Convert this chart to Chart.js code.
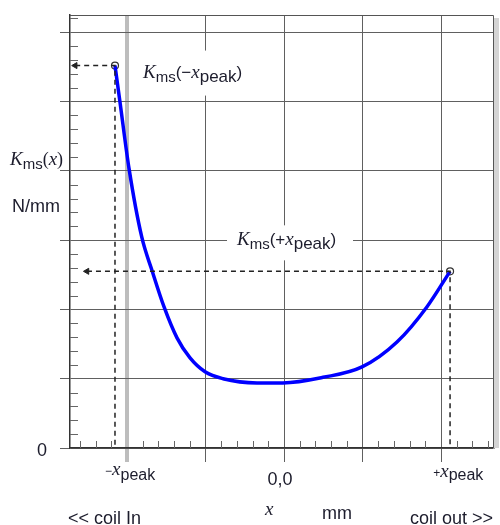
<!DOCTYPE html>
<html>
<head>
<meta charset="utf-8">
<script src="https://cdn.jsdelivr.net/npm/chart.js@4/dist/chart.umd.min.js"></script>
<style>
  html, body { margin: 0; padding: 0; background: #fff; }
</style>
</head>
<body>
<canvas id="kmsChart" width="500" height="525"></canvas>
<script>
// stiffness curve (x in mm grid units, K in grid units)
const curveX = [-2.153, -2.089, -1.975, -1.813, -1.675, -1.529, -1.363, -1.197, -1.006, -0.777, -0.344, -0.013, 0.497, 0.994, 1.439, 1.822, 2.115];
const curveY = [5.52, 4.99, 4.04, 3.05, 2.54, 2.04, 1.59, 1.30, 1.10, 1.00, 0.94, 0.94, 1.02, 1.17, 1.53, 2.04, 2.55];

// the two peak markers and where their dashed arrows end
const peakX = [-2.153, 2.115];
const peakY = [5.52, 2.55];
const arrowEndX = [-2.66, -2.51];

const xTicks = [-2, -1, 0, 1, 2];
const yTicks = [0, 1, 2, 3, 4, 5, 6];
const xLabelAt = [-1.96, -0.05, 2.22];

const TXT = '#1c1c2c';
const SERIF_I = 'italic 19px "Liberation Serif"';
const sans = n => n + 'px "Liberation Sans"';

function drawRich(ctx, parts, x, y, align) {
  let w = 0;
  parts.forEach(p => { ctx.font = p.f; w += ctx.measureText(p.t).width; });
  let cx = align === 'center' ? x - w / 2 : x;
  parts.forEach(p => {
    ctx.font = p.f;
    ctx.fillText(p.t, cx, y + (p.dy || 0));
    cx += ctx.measureText(p.t).width;
  });
  return w;
}

const kLabel = sign => [
  { t: 'K', f: SERIF_I },
  { t: 'ms', f: sans(15), dy: 4 },
  { t: '(' + sign, f: sans(17) },
  { t: 'x', f: SERIF_I },
  { t: 'peak', f: sans(17), dy: 4 },
  { t: ')', f: sans(17) }
];

const decor = {
  id: 'decor',
  beforeDatasetsDraw(chart) {
    const { ctx, chartArea: a, scales: { x, y } } = chart;
    ctx.save();
    // frame top/right + shadow
    ctx.fillStyle = '#d4d4d4';
    ctx.fillRect(a.right + 1, a.top + 3, 5, a.bottom - a.top - 3);
    ctx.strokeStyle = '#555';
    ctx.lineWidth = 1;
    ctx.beginPath();
    ctx.moveTo(a.left, a.top + 0.5);
    ctx.lineTo(a.right + 0.5, a.top + 0.5);
    ctx.lineTo(a.right + 0.5, a.bottom);
    ctx.stroke();

    // minor ticks
    ctx.strokeStyle = '#666';
    ctx.beginPath();
    for (let i = -14; i <= 14; i++) {
      if (i % 5 === 0) continue;
      const v = i / 5;
      if (v <= x.min || v >= x.max) continue;
      const px = Math.round(x.getPixelForValue(v)) + 0.5;
      ctx.moveTo(px, a.bottom);
      ctx.lineTo(px, a.bottom - 7);
    }
    for (let j = 1; j <= 31; j++) {
      if (j % 5 === 0) continue;
      const v = j / 5;
      if (v >= y.max) continue;
      const py = Math.round(y.getPixelForValue(v)) + 0.5;
      ctx.moveTo(a.left, py);
      ctx.lineTo(a.left + 8, py);
    }
    ctx.stroke();

    // annotation labels with white boxes
    ctx.textBaseline = 'alphabetic';
    const lx = x.getPixelForValue(peakX[0]) + 28;
    const ly = y.getPixelForValue(peakY[0]) + 12;
    ctx.fillStyle = '#fff';
    ctx.fillRect(lx - 8, ly - 27, 124, 45);
    const rx = x.getPixelForValue(0) - 47;
    const ry = y.getPixelForValue(peakY[1]) - 26;
    ctx.fillRect(rx - 10, ry - 20, 126, 35);
    ctx.fillStyle = TXT;
    drawRich(ctx, kLabel('−'), lx, ly, 'left');
    drawRich(ctx, kLabel('+'), rx, ry, 'left');
    ctx.restore();
  },
  afterDraw(chart) {
    const { ctx, chartArea: a, scales: { x, y } } = chart;
    ctx.save();
    ctx.fillStyle = TXT;
    ctx.textBaseline = 'alphabetic';
    // y axis texts
    drawRich(ctx, [
      { t: 'K', f: SERIF_I },
      { t: 'ms', f: sans(15), dy: 4 },
      { t: '(', f: '18px "Liberation Serif"' },
      { t: 'x', f: SERIF_I },
      { t: ')', f: '18px "Liberation Serif"' }
    ], 10, 165, 'left');
    ctx.font = sans(18);
    ctx.fillText('N/mm', 12, 212);
    drawRich(ctx, [{ t: '0', f: sans(18) }], 42, y.getPixelForValue(0) + 8, 'center');

    // x axis tick texts
    const b = a.bottom;
    drawRich(ctx, [
      { t: '−', f: sans(12) },
      { t: 'x', f: SERIF_I },
      { t: 'peak', f: sans(16), dy: 5 }
    ], x.getPixelForValue(xLabelAt[0]), b + 27, 'center');
    drawRich(ctx, [{ t: '0,0', f: sans(18) }], x.getPixelForValue(xLabelAt[1]), b + 37, 'center');
    drawRich(ctx, [
      { t: '+', f: sans(12) },
      { t: 'x', f: SERIF_I },
      { t: 'peak', f: sans(16), dy: 3 }
    ], x.getPixelForValue(xLabelAt[2]), b + 29, 'center');

    // bottom row
    ctx.font = sans(18);
    ctx.fillText('<< coil In', 68, 524);
    ctx.fillText('mm', 322, 519);
    ctx.fillText('coil out >>', 410, 524);
    ctx.font = SERIF_I;
    ctx.fillText('x', 265, 515);
    ctx.restore();
  }
};

const guide = i => ({
  data: [
    { x: arrowEndX[i], y: peakY[i] },
    { x: peakX[i], y: peakY[i] },
    { x: peakX[i], y: 0 }
  ],
  showLine: true,
  borderColor: '#222',
  borderWidth: 1.5,
  borderDash: [5, 4],
  pointRadius: 0,
  tension: 0
});

new Chart(document.getElementById('kmsChart'), {
  type: 'scatter',
  data: {
    datasets: [
      guide(0),
      guide(1),
      {
        // arrow heads
        data: arrowEndX.map((v, i) => ({ x: v, y: peakY[i] })),
        pointStyle: 'triangle',
        rotation: 270,
        pointRadius: 3.5,
        backgroundColor: '#222',
        borderColor: '#222',
        borderWidth: 1
      },
      {
        data: curveX.map((v, i) => ({ x: v, y: curveY[i] })),
        showLine: true,
        borderColor: '#0000ff',
        borderWidth: 3.5,
        pointRadius: 0,
        cubicInterpolationMode: 'monotone'
      },
      {
        data: peakX.map((v, i) => ({ x: v, y: peakY[i] })),
        pointRadius: 3.5,
        backgroundColor: '#fff',
        borderColor: '#333',
        borderWidth: 1.2
      }
    ]
  },
  plugins: [decor],
  options: {
    responsive: false,
    animation: false,
    layout: { padding: { left: 60, top: 15, right: 7, bottom: 63 } },
    plugins: { legend: { display: false }, tooltip: { enabled: false } },
    scales: {
      x: {
        type: 'linear',
        min: -2.726,
        max: 2.662,
        afterBuildTicks: s => { s.ticks = xTicks.map(v => ({ value: v })); },
        ticks: { display: false },
        grid: {
          tickLength: 14,
          color: c => (c.tick && c.tick.value === -2 ? '#bdbdbd' : '#606060'),
          lineWidth: c => (c.tick && c.tick.value === -2 ? 4 : 1)
        },
        border: { color: '#333', width: 1.5 }
      },
      y: {
        min: 0,
        max: 6.25,
        afterBuildTicks: s => { s.ticks = yTicks.map(v => ({ value: v })); },
        ticks: { display: false },
        grid: { tickLength: 10, color: '#606060', lineWidth: 1 },
        border: { color: '#333', width: 1.5 }
      }
    }
  }
});
</script>
</body>
</html>
